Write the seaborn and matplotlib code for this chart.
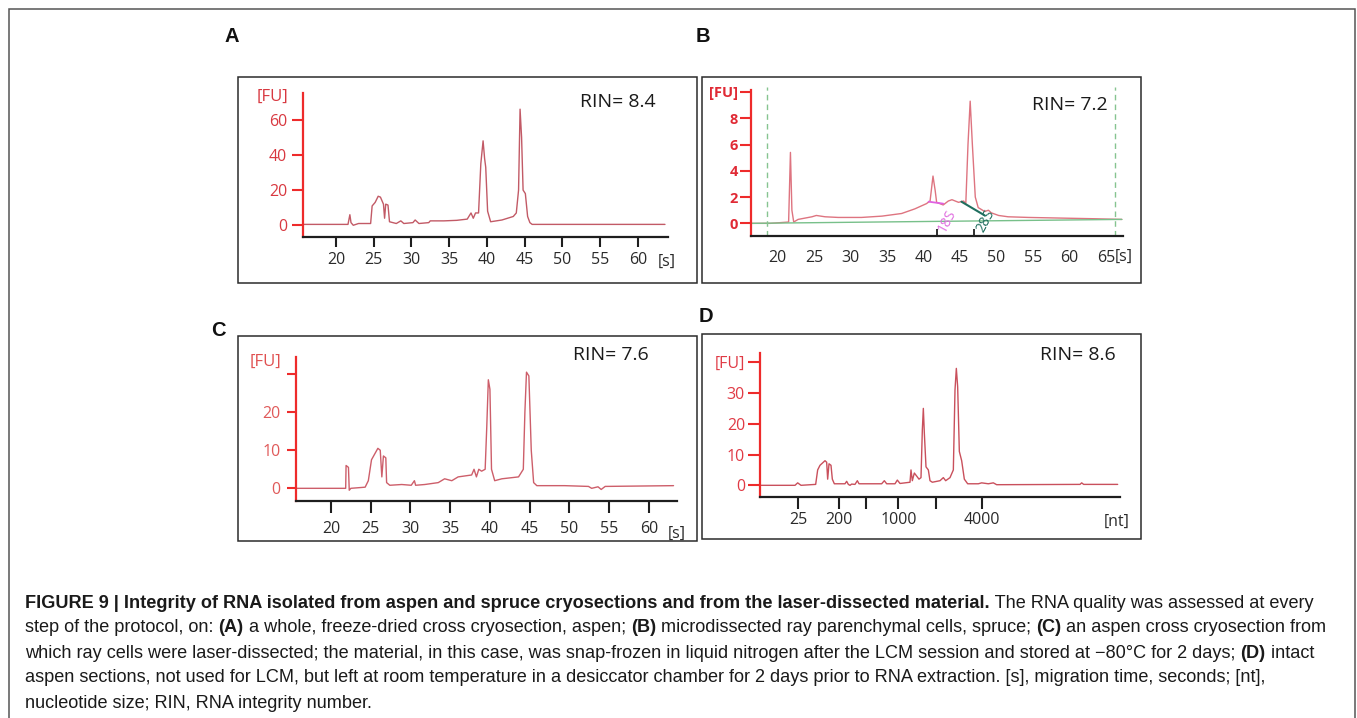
import matplotlib
matplotlib.use("Agg")
import matplotlib.pyplot as plt
from matplotlib.patches import Rectangle
import pandas as pd
import seaborn as sns

sns.set_style("ticks")
plt.rcParams['font.family'] = ['Open Sans', 'DejaVu Sans']

# ---- values ----
# A: whole freeze-dried cryosection, aspen (time in s, signal in FU)
a_time = [15.6, 21.6, 21.85, 22.0, 22.3, 23.0, 24.6, 24.8, 25.2, 25.6,
          25.9, 26.3, 26.45, 26.6, 26.9, 27.1, 28.0, 28.6, 29.0, 30.2,
          30.5, 31.0, 32.3, 32.5, 34.0, 34.3, 36.0, 37.4, 37.9, 38.2,
          38.5, 38.9, 39.2, 39.5, 39.7, 39.85, 40.1, 40.5, 42.0, 43.5,
          43.9, 44.2, 44.4, 44.6, 44.8, 45.1, 45.4, 45.7, 46.0, 63.6]
a_fu = [0.5, 0.5, 6, 1.5, 0, 1, 1, 11, 13, 16.5,
        16, 12, 4, 12, 11.5, 2, 1, 2.5, 1, 1.5,
        3, 1, 1.5, 2.5, 2.5, 2.5, 2.8, 3.5, 7, 4,
        7, 7, 35, 48, 38, 33, 8, 2, 3, 5,
        7, 20, 66, 50, 20, 18, 5, 1.5, 0.5, 0.5]

# B: microdissected ray parenchymal cells, spruce
b_time = [16.4, 19.0, 21.5, 21.75, 21.95, 22.2, 22.8, 24.7, 25.3, 26.5,
          28.3, 31.5, 34.3, 37.0, 38.8, 40.4, 40.9, 41.3, 41.6, 41.8,
          42.7, 43.4, 43.9, 44.8, 45.5, 45.8, 46.1, 46.4, 46.7, 47.1,
          47.5, 48.4, 48.9, 49.3, 50.3, 51.6, 54.4, 58.9, 63.5, 67.2]
b_fu = [0, 0, 0.1, 5.4, 1.0, 0.1, 0.3, 0.5, 0.6, 0.5,
        0.45, 0.45, 0.55, 0.75, 1.1, 1.5, 1.7, 3.6, 2.5, 1.6,
        1.4, 1.7, 1.8, 1.6, 1.7, 1.5, 6, 9.3, 6, 2,
        1.2, 0.9, 1.0, 0.8, 0.6, 0.5, 0.45, 0.4, 0.35, 0.3]
b_baseline_time = [16.4, 67.2]
b_baseline_fu = [0.0, 0.3]
b_window = [18.6, 66.3]
b_peak_marks = [41.9, 46.9]
b_18s_time = [40.7, 42.7]
b_18s_fu = [1.65, 1.5]
b_28s_time = [45.2, 48.4]
b_28s_fu = [1.65, 0.6]

# C: aspen cryosection after LCM, stored at -80 C
c_time = [15.6, 21.85, 21.9, 22.2, 22.3, 22.5, 24.3, 24.7, 25.1, 25.5,
          25.9, 26.2, 26.4, 26.6, 26.9, 27.0, 27.4, 28.9, 30.1, 30.5,
          30.65, 31.8, 33.5, 34.3, 35.2, 36.0, 37.7, 38.0, 38.3, 38.6,
          38.95, 39.4, 39.6, 39.8, 40.0, 40.2, 40.6, 41.5, 43.6, 44.2,
          44.4, 44.6, 44.9, 45.2, 45.5, 45.9, 49.4, 52.4, 52.8, 53.6,
          54.0, 54.5, 63.1]
c_fu = [0, 0, 6, 5.5, -0.5, 0, 0.3, 2, 7.5, 9,
        10.5, 10, 3, 8.5, 8, 1.5, 0.8, 1, 0.8, 2,
        0.8, 1, 1.5, 2.5, 2, 3, 3.5, 5, 3, 5,
        4.5, 5, 16, 28.5, 26, 5, 2, 2.5, 3, 5,
        20, 30.5, 29.5, 10, 1.5, 0.7, 0.7, 0.5, 0, 0.4,
        -0.3, 0.5, 0.7]

# D: intact aspen sections left 2 days at room temperature (x = run position)
d_pos = [19.5, 30.0, 30.8, 31.8, 36.2, 36.8, 37.5, 38.5, 39.0, 39.5,
         39.8, 40.2, 40.8, 41.2, 41.8, 45.0, 45.5, 46.0, 46.5, 47.0,
         48.0, 48.7, 49.2, 56.0, 56.8, 57.5, 60.0, 60.7, 61.5, 64.5,
         64.8, 65.2, 65.8, 66.5, 67.2, 67.8, 68.2, 68.5, 68.8, 69.3,
         70.0, 70.5, 71.2, 73.5, 74.5, 75.2, 76.5, 77.5, 78.0, 78.4,
         78.8, 79.3, 80.0, 80.8, 81.8, 85.0, 86.0, 88.0, 89.5, 90.5,
         115.5, 116.0, 116.6, 126.8]
d_fu = [0, 0, 0.8, 0, 0.3, 5, 6.5, 7.5, 8, 7.5,
        2, 7, 6.5, 2, 0.5, 0.5, 1.3, 0.3, 0, 0.4,
        0.3, 1.5, 0.5, 0.5, 1.5, 0.5, 0.5, 1.7, 0.6, 1,
        5, 1.5, 4, 3, 2, 2.5, 18, 25, 17, 6,
        5, 1.5, 1, 1.5, 2.5, 1.5, 2.5, 5, 31, 38,
        32, 11, 8, 2, 0.5, 0.5, 0.8, 0.5, 0.8, 0.2,
        0.3, 0.8, 0.3, 0.3]
d_tick_pos = [31.0, 43.3, 51.2, 61.0, 72.3, 86.2]
d_tick_labels = ["25", "200", "", "1000", "", "4000"]

a_yticks = [0, 20, 40, 60]
b_yticks = [0, 2, 4, 6, 8, 10]
c_yticks = [0, 10, 20, 30]
d_yticks = [0, 10, 20, 30, 40]
s_ticks = [20, 25, 30, 35, 40, 45, 50, 55, 60]
b_xticks = [20, 25, 30, 35, 40, 45, 50, 55, 60, 65]

panel_letters = ["A", "B", "C", "D"]
rin_values = ["8.4", "7.2", "7.6", "8.6"]

caption_lines = [
    [("FIGURE 9 | Integrity of RNA isolated from aspen and spruce cryosections and from the laser-dissected material.", True),
     (" The RNA quality was assessed at every", False)],
    [("step of the protocol, on: ", False), ("(A)", True),
     (" a whole, freeze-dried cross cryosection, aspen; ", False), ("(B)", True),
     (" microdissected ray parenchymal cells, spruce; ", False), ("(C)", True),
     (" an aspen cross cryosection from", False)],
    [("which ray cells were laser-dissected; the material, in this case, was snap-frozen in liquid nitrogen "
      "after the LCM session and stored at \u221280\u00b0C for 2 days; ", False), ("(D)", True), (" intact", False)],
    [("aspen sections, not used for LCM, but left at room temperature in a desiccator chamber for 2 days "
      "prior to RNA extraction. [s], migration time, seconds; [nt],", False)],
    [("nucleotide size; RIN, RNA integrity number.", False)],
]

RED = "#ee2b2b"
TRACE = "#c25a66"
DARK = "#1e1e1e"
TICKTXT = "#2a2a2a"
LBL = 11.5

W, H = 1357, 718
fig = plt.figure(figsize=(W / 100, H / 100), dpi=100)


def fx(x):
    return x / W


def fy(y):
    return 1 - y / H


def add_box(x0, y0, x1, y1, lw=1.1, color="#2b2b2b"):
    fig.add_artist(Rectangle((fx(x0), fy(y1)), (x1 - x0) / W, (y1 - y0) / H,
                             transform=fig.transFigure, fill=False, lw=lw, ec=color))


def panel(rect, x, y, xlim, ylim, color=TRACE):
    x0, y0, x1, y1 = rect
    ax = fig.add_axes([fx(x0), fy(y1), (x1 - x0) / W, (y1 - y0) / H])
    df = pd.DataFrame({"x": x, "y": y})
    sns.lineplot(data=df, x="x", y="y", ax=ax, color=color, lw=1.0,
                 estimator=None, sort=False)
    ax.set_xlim(*xlim)
    ax.set_ylim(*ylim)
    ax.set_facecolor("none")
    ax.set_xlabel("")
    ax.set_ylabel("")
    for s in ("top", "right"):
        ax.spines[s].set_visible(False)
    ax.spines["left"].set_color(RED)
    ax.spines["left"].set_linewidth(1.6)
    ax.spines["bottom"].set_color(DARK)
    ax.spines["bottom"].set_linewidth(1.6)
    return ax


# outer frame and panel boxes
add_box(9, 9, 1355, 724, lw=1.1, color="#555555")
add_box(238, 77, 697, 283)
add_box(702, 77, 1141, 283)
add_box(238, 336, 697, 541)
add_box(702, 334, 1141, 539)

# ---- panel A ----
ax = panel((302.7, 93, 668, 236.7), a_time, a_fu, (15.6, 64.0), (-6.5, 75.2))
ax.set_yticks(a_yticks)
ax.set_xticks(s_ticks)
ax.tick_params(axis="y", length=8, width=1.5, color=RED, labelcolor="#d83840",
               labelsize=LBL, pad=3.2)
ax.tick_params(axis="x", length=7.2, width=1.5, color=DARK, labelcolor=TICKTXT,
               labelsize=LBL, pad=4)
fig.text(fx(288), fy(97), "[FU]", color="#d83840", fontsize=12, ha="right", va="center")
fig.text(fx(667), fy(262), "[s]", color=TICKTXT, fontsize=LBL, ha="center", va="center")

# ---- panel B ----
ax = panel((750.7, 90, 1123.3, 235.7), b_time, b_fu, (16.3, 67.4), (-0.94, 10.15),
           color="#de7480")
sns.lineplot(x=b_baseline_time, y=b_baseline_fu, ax=ax, color="#78c08a", lw=1.0)
sns.lineplot(x=b_18s_time, y=b_18s_fu, ax=ax, color="#e060e0", lw=1.3)
sns.lineplot(x=b_28s_time, y=b_28s_fu, ax=ax, color="#1f6e5e", lw=1.5)
for v in b_window:
    ax.axvline(v, ymin=0, ymax=1.023, ls=(0, (4, 3)), color="#86c490", lw=1.0,
               clip_on=False)
ax.text(43.3, 0.15, "18S", color="#e070e0", fontsize=10, rotation=62,
        ha="center", va="center")
ax.text(48.5, 0.2, "28S", color="#1f6e5e", fontsize=10, rotation=62,
        ha="center", va="center")
ax.set_yticks(b_yticks)
ax.set_yticklabels([str(v) for v in b_yticks[:-1]] + ["[FU]"])
for t in ax.get_yticklabels():
    t.set_fontweight("bold")
ax.set_xticks(b_xticks)
ax.set_xticks(b_peak_marks, minor=True)
ax.tick_params(axis="y", length=7.7, width=1.5, color=RED, labelcolor="#e02a35",
               labelsize=10.5, pad=1.4)
ax.tick_params(axis="x", which="major", length=0, labelcolor=TICKTXT,
               labelsize=LBL, pad=10)
ax.tick_params(axis="x", which="minor", direction="in", length=5, width=1.3,
               color=DARK)
fig.text(fx(1124), fy(257), "[s]", color=TICKTXT, fontsize=LBL, ha="center", va="center")

# ---- panel C ----
ax = panel((296, 357.3, 676.7, 500.7), c_time, c_fu, (15.6, 63.5), (-3.25, 34.4),
           color="#cd5e6a")
ax.set_yticks(c_yticks)
ax.set_yticklabels(["0", "10", "20", ""])
ax.set_xticks(s_ticks)
ax.tick_params(axis="y", length=6.7, width=1.5, color=RED, labelcolor="#e05a5a",
               labelsize=LBL, pad=4.5)
ax.tick_params(axis="x", length=8.4, width=1.5, color=DARK, labelcolor=TICKTXT,
               labelsize=LBL, pad=6.5)
fig.text(fx(281), fy(361.7), "[FU]", color="#e05050", fontsize=12, ha="right", va="center")
fig.text(fx(677), fy(533.5), "[s]", color=TICKTXT, fontsize=LBL, ha="center", va="center")

# ---- panel D ----
ax = panel((760, 353, 1120, 496.7), d_pos, d_fu, (19.5, 127.5), (-3.7, 43.0),
           color="#c9505c")
ax.set_yticks(d_yticks)
ax.set_yticklabels([str(v) for v in d_yticks[:-1]] + ["[FU]"])
ax.set_xticks(d_tick_pos)
ax.set_xticklabels(d_tick_labels)
ax.tick_params(axis="y", length=8.4, width=1.5, color=RED, labelcolor="#e03a45",
               labelsize=LBL, pad=2.4)
ax.tick_params(axis="x", length=8.4, width=1.5, color=DARK, labelcolor=TICKTXT,
               labelsize=LBL, pad=2.8)
fig.text(fx(1117), fy(522), "[nt]", color=TICKTXT, fontsize=LBL, ha="center", va="center")

# ---- panel letters and RIN ----
letter_pos = [(232, 36), (703, 36), (218, 331), (706, 317)]
for letter, (x, y) in zip(panel_letters, letter_pos):
    fig.text(fx(x), fy(y), letter, fontsize=14.5, weight="bold", ha="center", va="center",
             family=["Liberation Sans", "DejaVu Sans"], color="#111111")

rin_pos = [(580, 101.7), (1032, 105), (573, 355), (1040, 355)]
for val, (x, y) in zip(rin_values, rin_pos):
    fig.text(fx(x), fy(y), "RIN= " + val, fontsize=14, ha="left", va="center",
             color="#1a1a1a")

# ---- caption ----
cap_family = ["Liberation Sans", "DejaVu Sans"]
renderer = fig.canvas.get_renderer()


def text_width(s, **kw):
    t = fig.text(0, 0, "|" + s + "|", **kw)
    w = t.get_window_extent(renderer).width
    t.remove()
    t = fig.text(0, 0, "||", **kw)
    w -= t.get_window_extent(renderer).width
    t.remove()
    return w


def line_width(segs, size):
    return sum(text_width(s, fontsize=size, family=cap_family,
                          weight="bold" if b else "normal") for s, b in segs)


size = 11.5
widest = max(line_width(segs, size) for segs in caption_lines)
size *= 1308 / widest

baselines = [607.5, 632.5, 657.5, 682, 707.5]
for segs, yb in zip(caption_lines, baselines):
    x = 25
    for s, b in segs:
        kw = dict(fontsize=size, family=cap_family, weight="bold" if b else "normal")
        fig.text(fx(x), fy(yb), s, ha="left", va="baseline", color="#1a1a1a", **kw)
        x += text_width(s, **kw)

fig.savefig("out.png", dpi=100)
